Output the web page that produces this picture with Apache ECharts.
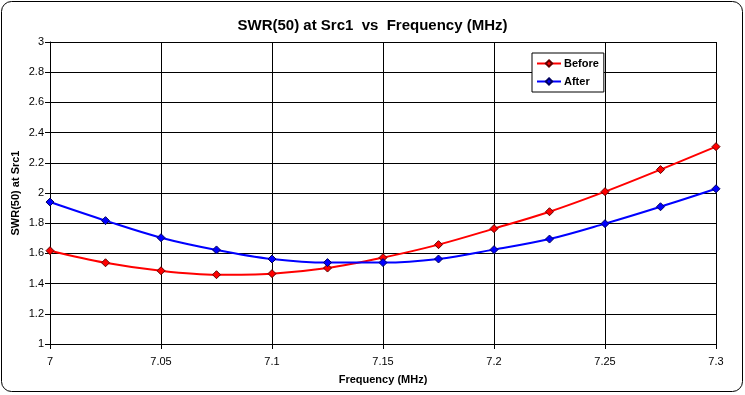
<!DOCTYPE html>
<html>
<head>
<meta charset="utf-8">
<script src="https://cdn.jsdelivr.net/npm/echarts@6/dist/echarts.min.js"></script>
<style>
html,body{margin:0;padding:0;background:#fff;}
#chart{width:745px;height:395px;}
</style>
</head>
<body>
<div id="chart"></div>
<script>
var frequencies = [7.000, 7.025, 7.050, 7.075, 7.100, 7.125, 7.150, 7.175, 7.200, 7.225, 7.250, 7.275, 7.300];
var swrBefore = [1.618, 1.538, 1.485, 1.459, 1.466, 1.503, 1.572, 1.658, 1.764, 1.876, 2.009, 2.155, 2.307];
var swrAfter  = [1.940, 1.817, 1.704, 1.623, 1.563, 1.539, 1.539, 1.563, 1.625, 1.695, 1.797, 1.909, 2.028];
var seriesNames = ['Before', 'After'];
var titleText = 'SWR(50) at Src1  vs  Frequency (MHz)';
var xAxisName = 'Frequency (MHz)';
var yAxisName = 'SWR(50) at Src1';

function pairs(xs, ys) {
  return xs.map(function (x, i) { return [x, ys[i]]; });
}

var FONT = '"Liberation Sans", Arial, sans-serif';
var chart = echarts.init(document.getElementById('chart'), null, {renderer: 'canvas'});

function mkSeries(name, data, color, border) {
  return {
    name: name,
    type: 'line',
    data: data,
    smooth: 0.35,
    symbol: 'diamond',
    symbolSize: 8,
    showSymbol: true,
    lineStyle: {color: color, width: 2},
    itemStyle: {color: color, borderColor: border, borderWidth: 1},
    emphasis: {disabled: true},
    z: 3
  };
}

chart.setOption({
  animation: false,
  backgroundColor: '#ffffff',
  textStyle: {fontFamily: FONT, color: '#000'},
  graphic: [{
    type: 'rect',
    shape: {x: 1.5, y: 1.5, width: 741, height: 390, r: 10},
    style: {fill: 'none', stroke: '#000', lineWidth: 1},
    silent: true,
    z: -1
  }],
  title: {
    text: titleText,
    left: 'center',
    top: 13,
    textStyle: {fontFamily: FONT, fontSize: 15, fontWeight: 'bold', color: '#000'}
  },
  legend: {
    orient: 'vertical',
    left: 532,
    top: 53,
    data: seriesNames,
    backgroundColor: '#fff',
    borderColor: '#000',
    borderWidth: 1,
    borderRadius: 0,
    padding: [5, 5, 5, 4],
    itemGap: 7,
    itemWidth: 24,
    itemHeight: 8,
    textStyle: {fontFamily: FONT, fontSize: 11, fontWeight: 'bold', color: '#000', padding: [0, 0, 0, -2]}
  },
  grid: {left: 50, right: 29, top: 42, bottom: 51, containLabel: false, outerBoundsMode: 'none'},
  xAxis: {
    type: 'value',
    min: 7,
    max: 7.3,
    interval: 0.05,
    name: xAxisName,
    nameLocation: 'middle',
    nameGap: 30,
    nameMoveOverlap: false,
    nameTextStyle: {fontFamily: FONT, fontSize: 11, fontWeight: 'bold', color: '#000'},
    axisLine: {show: true, onZero: false, lineStyle: {color: '#000', width: 1}},
    axisTick: {show: true, inside: false, length: 5, lineStyle: {color: '#000'}},
    axisLabel: {fontFamily: FONT, fontSize: 11, color: '#000', margin: 12},
    splitLine: {show: true, lineStyle: {color: '#000', width: 1}}
  },
  yAxis: {
    type: 'value',
    min: 1,
    max: 3,
    interval: 0.2,
    name: yAxisName,
    nameLocation: 'middle',
    nameGap: 29,
    nameMoveOverlap: false,
    nameRotate: 90,
    nameTextStyle: {fontFamily: FONT, fontSize: 11, fontWeight: 'bold', color: '#000'},
    axisLine: {show: true, onZero: false, lineStyle: {color: '#000', width: 1}},
    axisTick: {show: true, inside: false, length: 5, lineStyle: {color: '#000'}},
    axisLabel: {fontFamily: FONT, fontSize: 11, color: '#000', margin: 6,
      formatter: function (v) { return String(Math.round(v * 10) / 10); }},
    splitLine: {show: true, lineStyle: {color: '#000', width: 1}}
  },
  series: [
    mkSeries(seriesNames[0], pairs(frequencies, swrBefore), '#ff0000', '#600000'),
    mkSeries(seriesNames[1], pairs(frequencies, swrAfter), '#0000ff', '#000060')
  ]
});
</script>
</body>
</html>
